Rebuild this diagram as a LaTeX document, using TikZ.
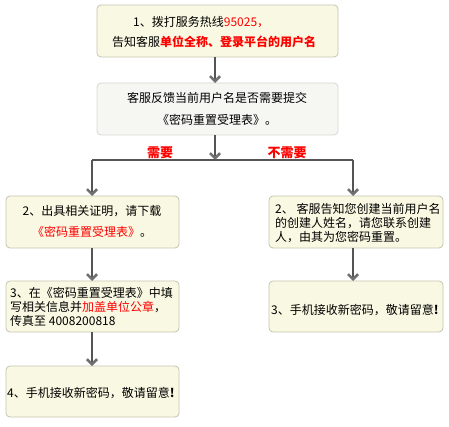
\documentclass[tikz,border=0pt]{standalone}
\usepackage{fontspec}
\setmainfont{Noto Sans CJK SC}
\usetikzlibrary{arrows.meta}
\definecolor{boxfill}{HTML}{F9F9E3}
\definecolor{boxline}{HTML}{C4C4B2}
\definecolor{greyfill}{HTML}{F6F6F2}
\definecolor{greyline}{HTML}{D8D8D2}
\definecolor{linecol}{HTML}{555555}
\definecolor{chev}{HTML}{707070}
\definecolor{hot}{HTML}{FF0000}
\tikzset{
  ybox/.style={draw=boxline, fill=boxfill, rounded corners=4pt, line width=0.8pt, inner sep=0pt, outer sep=0pt, anchor=north west},
  gbox/.style={draw=greyline, fill=greyfill, rounded corners=4pt, line width=0.8pt, inner sep=0pt, outer sep=0pt, anchor=north west},
  txt/.style={inner sep=0pt, anchor=west},
  ctxt/.style={inner sep=0pt},
  conn/.style={draw=linecol, line width=1.2pt},
  arr/.style={conn, -{Straight Barb[length=5pt, width=10pt, line width=2.6pt, color=chev]}},
  lbl/.style={inner sep=0pt, text=hot, font=\fontsize{13}{15}\selectfont\bfseries}
}
\begin{document}
\begin{tikzpicture}[x=1pt, y=-1pt, font=\fontsize{12}{14}\selectfont]
\useasboundingbox (0,0) rectangle (449,427);
\fill[white] (0,0) rectangle (449,427);

% boxes
\node[ybox, minimum width=241pt, minimum height=52pt] (b1) at (97,5) {};
\node[gbox, minimum width=241pt, minimum height=52pt] (b2) at (97,83) {};
\node[ybox, minimum width=173pt, minimum height=52pt] (l2) at (6,196) {};
\node[ybox, minimum width=173pt, minimum height=51pt] (l3) at (6,281) {};
\node[ybox, minimum width=173pt, minimum height=51pt] (l4) at (6,366) {};
\node[ybox, minimum width=174pt, minimum height=52pt] (r2) at (269,196) {};
\node[ybox, minimum width=174pt, minimum height=51pt] (r3) at (269,281) {};

% texts
\node[txt] (t1a) at (133,22) {1、拨打服务热线\textcolor{hot}{95025，}};
\node[txt] (t1b) at (112,42) {告知客服\textcolor{hot}{\bfseries 单位全称、登录平台的用户名}};
\node[ctxt] (t2a) at (217,98) {客服反馈当前用户名是否需要提交};
\node[ctxt] (t2b) at (217,120) {《密码重置受理表》。};
\node[ctxt] (tl2a) at (92,211) {2、出具相关证明，请下载};
\node[ctxt] (tl2b) at (92,232) {\textcolor{hot}{《密码重置受理表》}。};
\node[txt] (tl3a) at (10,293) {3、在《密码重置受理表》中填};
\node[txt] (tl3b) at (10,307) {写相关信息并\textcolor{hot}{加盖单位公章}，};
\node[txt] (tl3c) at (10,321) {传真至 4008200818};
\node[txt] (tl4) at (7,393) {4、手机接收新密码，敬请留意\textbf{!}};
\node[txt] (tr2a) at (275,209) {2、 客服告知您创建当前用户名};
\node[txt] (tr2b) at (275,223) {的创建人姓名，请您联系创建};
\node[txt] (tr2c) at (275,237) {人，由其为您密码重置。};
\node[txt] (tr3) at (271,310) {3、手机接收新密码，敬请留意\textbf{!}};

% labels
\node[lbl] (need) at (160,153) {需要};
\node[lbl] (noneed) at (287,153) {不需要};

% connectors
\coordinate (trunk) at (215,0);
\coordinate (split) at (215,160);
\coordinate (lsplit) at (92,160);
\coordinate (rsplit) at (353,160);
\draw[arr] (b1.south -| trunk) -- (b2.north -| trunk);
\draw[arr] (b2.south -| trunk) -- (split);
\draw[conn] (lsplit) -- (rsplit);
\draw[arr] (lsplit) -- (l2.north -| lsplit);
\draw[arr] (rsplit) -- (r2.north -| rsplit);
\draw[arr] (l2.south -| lsplit) -- (l3.north -| lsplit);
\draw[arr] (l3.south -| lsplit) -- (l4.north -| lsplit);
\draw[arr] (r2.south -| rsplit) -- (r3.north -| rsplit);
\end{tikzpicture}
\end{document}
